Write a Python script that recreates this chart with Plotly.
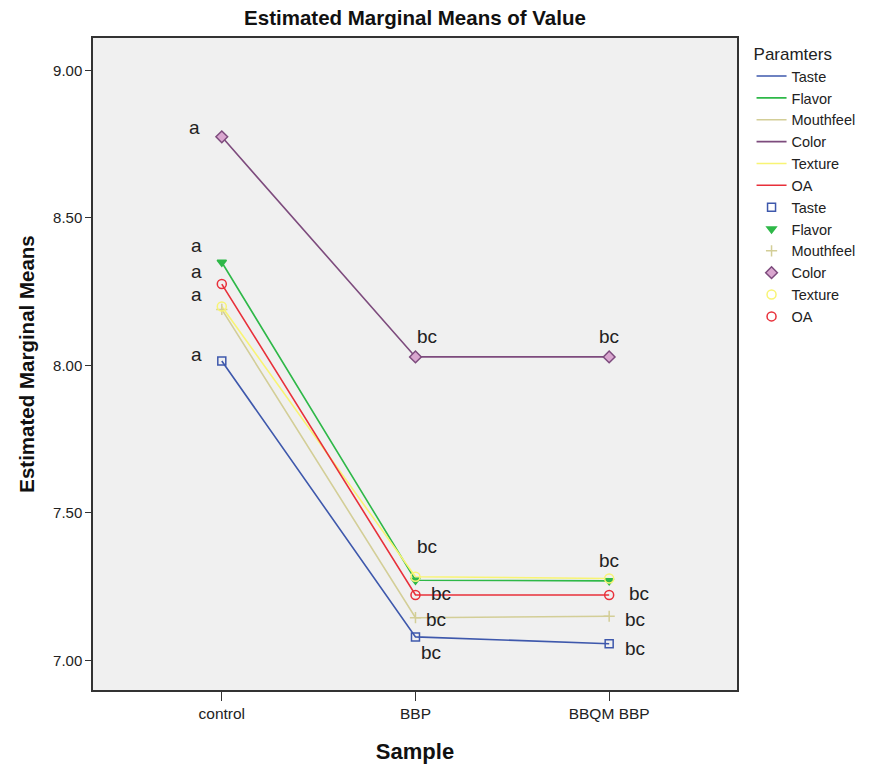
import plotly.graph_objects as go

samples = ["control", "BBP", "BBQM BBP"]
params = ["Taste", "Flavor", "Mouthfeel", "Color", "Texture", "OA"]
taste = [8.015, 7.080, 7.057]
flavor = [8.350, 7.272, 7.270]
mouthfeel = [8.190, 7.145, 7.150]
color = [8.775, 8.029, 8.029]
texture = [8.200, 7.284, 7.278]
oa = [8.276, 7.222, 7.222]
letters = [["a", "bc", "bc"]] * 6

series = [taste, flavor, mouthfeel, color, texture, oa]
line_colors = ["#3E58AC", "#2EB848", "#D3CE97", "#7D4B7D", "#F8F474", "#E8303A"]
symbols = ["square-open", "triangle-down", "cross-thin-open", "diamond", "circle-open", "circle-open"]
marker_fill = ["#3E58AC", "#2EB848", "#D3CE97", "#D9A6CF", "#F8F474", "#E8303A"]
marker_size = [8, 8, 8, 9, 9, 9]

fig = go.Figure()
for name, vals, c in zip(params, series, line_colors):
    fig.add_trace(go.Scatter(x=samples, y=vals, mode="lines", name=name,
                             line=dict(color=c, width=1.6), legendgroup="l" + name))
for name, vals, c, s, f, sz in zip(params, series, line_colors, symbols, marker_fill, marker_size):
    mk = dict(symbol=s, size=sz, color=f, line=dict(color=c, width=1.5))
    fig.add_trace(go.Scatter(x=samples, y=vals, mode="markers", name=name,
                             marker=mk, legendgroup="m" + name))

# letter annotations (offsets in pixels)
offsets = {
    ("Color", 0): (-27, 9), ("Flavor", 0): (-25, 17), ("OA", 0): (-25, 13),
    ("Texture", 0): (-25, 12), ("Taste", 0): (-25, 7),
    ("Color", 1): (12, 20), ("Color", 2): (0, 20),
    ("Texture", 1): (12, 30), ("OA", 1): (26, 2), ("Mouthfeel", 1): (21, -2),
    ("Taste", 1): (16, -16),
    ("Texture", 2): (0, 18), ("OA", 2): (30, 2), ("Mouthfeel", 2): (26, -3),
    ("Taste", 2): (26, -5),
}
for (name, i), (dx, dy) in offsets.items():
    vals = series[params.index(name)]
    fig.add_annotation(x=samples[i], y=vals[i], text=letters[params.index(name)][i],
                       showarrow=False, xshift=dx, yshift=dy,
                       font=dict(size=19, color="#222222", family="Arial"))

fig.update_layout(
    width=872, height=767,
    paper_bgcolor="white", plot_bgcolor="#F0F0F0",
    margin=dict(l=93, r=134, t=38, b=77),
    font=dict(family="Arial", color="#111111"),
    title=dict(text="<b>Estimated Marginal Means of Value</b>", x=0.5, xanchor="center",
               xref="paper", y=0.977, yanchor="middle", font=dict(size=20.5, color="#111111")),
    legend=dict(title=dict(text="Paramters", font=dict(size=17, color="#222222")),
                x=1.021, xanchor="left", y=1.0, yanchor="top",
                font=dict(size=14.5, color="#222222"), bgcolor="rgba(0,0,0,0)",
                itemwidth=30, tracegroupgap=0),
    showlegend=True,
)
fig.update_xaxes(type="category", range=[-0.665, 2.66], showgrid=False, automargin=False,
                 showline=True, linecolor="#333333", linewidth=1.5, mirror=True,
                 ticks="outside", ticklen=9, tickcolor="#333333",
                 tickfont=dict(size=15.5, color="#222222"),
                 title=dict(text="<b>Sample</b>", font=dict(size=22, color="#111111"), standoff=22))
fig.update_yaxes(range=[6.90, 9.11], tickvals=[7.0, 7.5, 8.0, 8.5, 9.0], automargin=False,
                 ticktext=["7.00", "7.50", "8.00", "8.50", "9.00"], showgrid=False, zeroline=False,
                 showline=True, linecolor="#333333", linewidth=1.5, mirror=True,
                 ticks="outside", ticklen=6, tickcolor="#333333",
                 tickfont=dict(size=15, color="#222222"),
                 title=dict(text="<b>Estimated Marginal Means</b>", font=dict(size=20.5, color="#111111"), standoff=13))

fig.write_html("out.html", config={"displayModeBar": False},
               post_script="document.body.style.margin='0';")
